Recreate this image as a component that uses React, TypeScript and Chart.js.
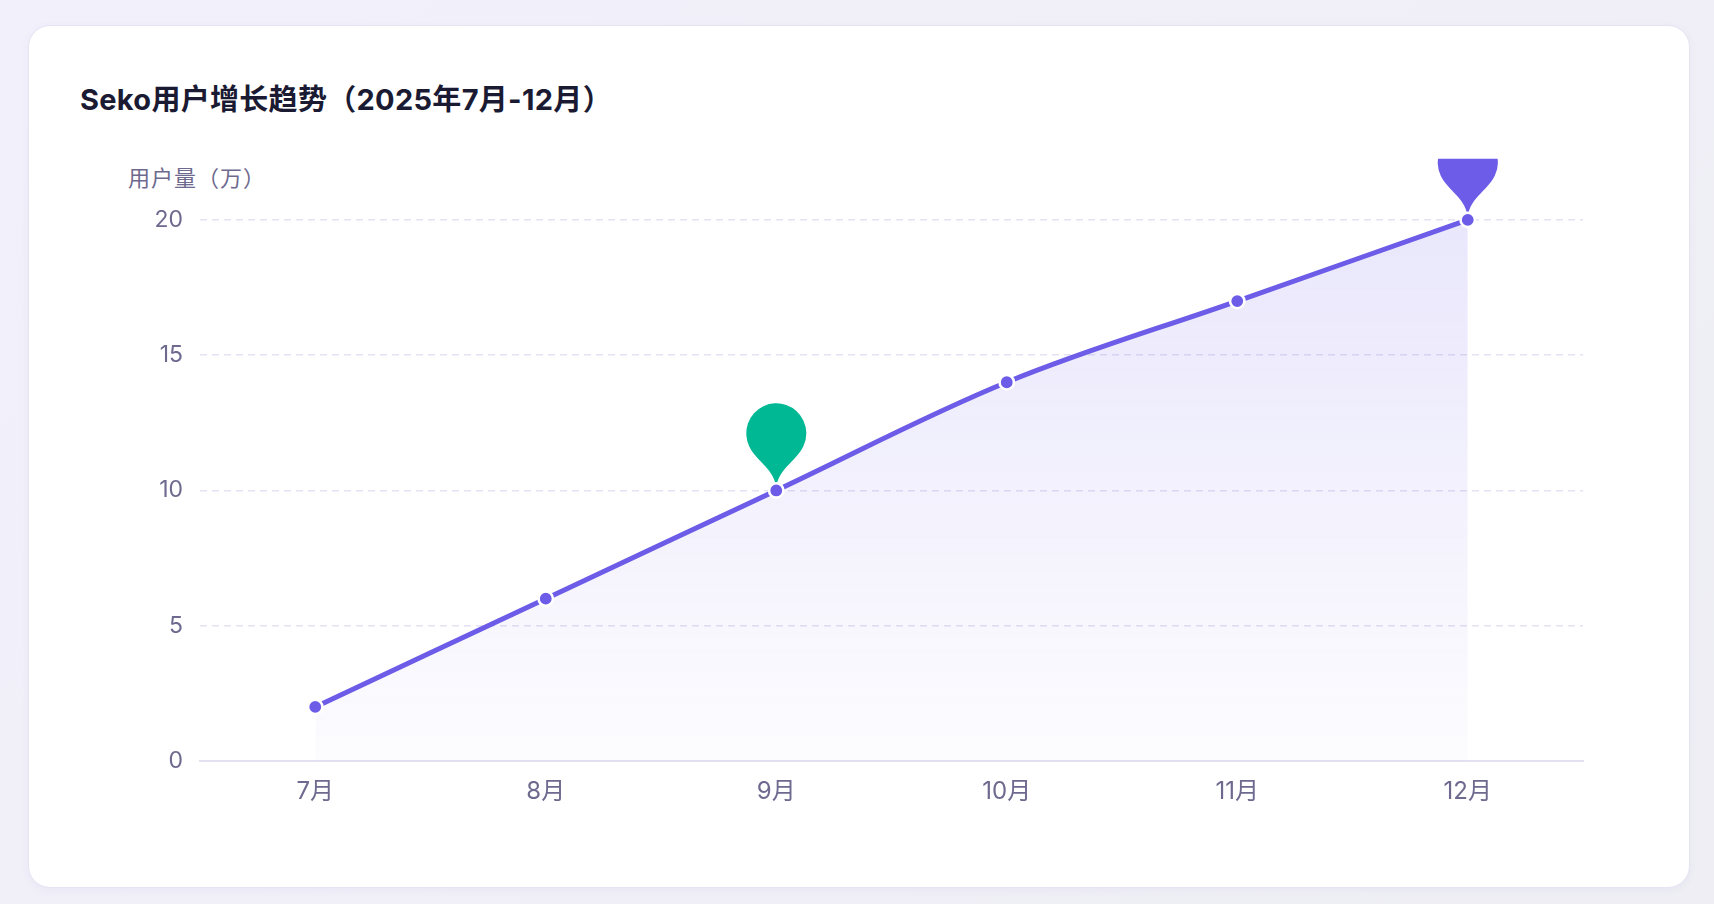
import React, { useEffect, useRef } from 'react';
import { Chart, registerables, ChartOptions, Plugin, ScriptableContext } from 'chart.js';

Chart.register(...registerables);

// Chart data
const months = ['7月', '8月', '9月', '10月', '11月', '12月'];
const users = [2, 6, 10, 14, 17, 20];
const yTicks = [0, 5, 10, 15, 20];
const pinIndexes = [2, 5];
const pinColors = ['#00b894', '#6c5ce7'];

const LINE_COLOR = '#6c5ce7';
const LABEL_COLOR = '#6e6a8f';
const FONT = "Inter, 'Noto Sans CJK SC', sans-serif";

// Pin marker, tip at (x, y)
function drawPin(ctx: CanvasRenderingContext2D, x: number, y: number, size: number, color: string) {
  const w = (size / 5) * 3;
  const h = size;
  const r = w / 2;
  const dy = (r * r) / (h - r);
  const cy = y - h + r + dy;
  const angle = Math.asin(dy / r);
  const dx = Math.cos(angle) * r;
  const tanX = Math.sin(angle);
  const tanY = Math.cos(angle);
  const cp = r * 0.6;
  const cp2 = r * 0.7;
  ctx.beginPath();
  ctx.moveTo(x - dx, cy + dy);
  ctx.arc(x, cy, r, Math.PI - angle, Math.PI * 2 + angle);
  ctx.bezierCurveTo(x + dx - tanX * cp, cy + dy + tanY * cp, x, y - cp2, x, y);
  ctx.bezierCurveTo(x, y - cp2, x - dx + tanX * cp, cy + dy + tanY * cp, x - dx, cy + dy);
  ctx.closePath();
  ctx.fillStyle = color;
  ctx.fill();
}

const pinPlugin: Plugin<'line'> = {
  id: 'pins',
  beforeDatasetsDraw(chart) {
    const { ctx, chartArea } = chart;
    const meta = chart.getDatasetMeta(0);
    const top = chartArea.top - 7;
    ctx.save();
    ctx.beginPath();
    ctx.rect(chartArea.left, top, chartArea.right - chartArea.left, chartArea.bottom - top);
    ctx.clip();
    pinIndexes.forEach((idx, i) => {
      const el = meta.data[idx];
      if (el) drawPin(ctx, el.x, el.y, 100, pinColors[i]);
    });
    ctx.restore();
  }
};

const App: React.FC = () => {
  const chartRef = useRef<HTMLCanvasElement>(null);

  useEffect(() => {
    document.body.style.margin = '0';
    let chart: Chart<'line'> | null = null;

    const options: ChartOptions<'line'> = {
      animation: false,
      responsive: true,
      maintainAspectRatio: false,
      layout: { padding: { top: 18, right: 37, bottom: 19, left: 0 } },
      plugins: {
        legend: { display: false },
        tooltip: { enabled: false }
      },
      scales: {
        x: {
          offset: true,
          grid: { display: false },
          border: { display: true, color: '#e3e1f0', width: 2 },
          ticks: { color: LABEL_COLOR, font: { size: 24, family: FONT }, padding: 8 },
          afterFit: (s) => { s.height = 60; }
        },
        y: {
          min: 0,
          max: 22,
          afterBuildTicks: (s) => { s.ticks = yTicks.map((v) => ({ value: v })); },
          afterFit: (s) => { s.width = 100; },
          ticks: { color: LABEL_COLOR, font: { size: 23, family: FONT }, padding: 17 },
          grid: {
            drawTicks: false,
            lineWidth: 1.5,
            color: (c) => (c.tick && c.tick.value === 0 ? 'rgba(0,0,0,0)' : '#e4e2f3')
          },
          border: { display: false, dash: [7, 5] }
        }
      }
    };

    if (chartRef.current) {
      chart = new Chart(chartRef.current, {
        type: 'line',
        data: {
          labels: months,
          datasets: [
            {
              data: users,
              borderColor: LINE_COLOR,
              borderWidth: 5,
              tension: 0.35,
              fill: 'origin',
              backgroundColor: (c: ScriptableContext<'line'>) => {
                const area = c.chart.chartArea;
                if (!area) return 'rgba(108,92,231,0.1)';
                const g = c.chart.ctx.createLinearGradient(0, area.top, 0, area.bottom);
                g.addColorStop(0, 'rgba(108,92,231,0.16)');
                g.addColorStop(1, 'rgba(108,92,231,0.02)');
                return g;
              },
              pointRadius: 7.2,
              pointBorderWidth: 2.6,
              pointBorderColor: '#ffffff',
              pointBackgroundColor: LINE_COLOR
            }
          ]
        },
        options,
        plugins: [pinPlugin]
      });
    }

    return () => {
      if (chart) chart.destroy();
    };
  }, []);

  // Styles
  const pageStyle: React.CSSProperties = {
    position: 'relative',
    width: '1714px',
    height: '904px',
    overflow: 'hidden',
    background: 'linear-gradient(135deg, #f2f0fb 0%, #f0eff7 60%, #eeeef4 100%)',
    fontFamily: FONT
  };

  const cardStyle: React.CSSProperties = {
    position: 'absolute',
    left: '28px',
    top: '25px',
    width: '1662px',
    height: '863px',
    boxSizing: 'border-box',
    background: '#ffffff',
    border: '1.5px solid #e6e4f3',
    borderRadius: '22px',
    boxShadow: '0 2px 8px rgba(90,80,160,0.05)'
  };

  const titleStyle: React.CSSProperties = {
    position: 'absolute',
    left: '80px',
    top: '85px',
    fontSize: '29px',
    lineHeight: '30px',
    letterSpacing: '0.3px',
    fontWeight: 700,
    color: '#1b1a33',
    whiteSpace: 'nowrap'
  };

  const yNameStyle: React.CSSProperties = {
    position: 'absolute',
    left: '128px',
    top: '165px',
    fontSize: '22px',
    lineHeight: '26px',
    letterSpacing: '1px',
    color: LABEL_COLOR,
    whiteSpace: 'nowrap'
  };

  const chartBoxStyle: React.CSSProperties = {
    position: 'absolute',
    left: '100px',
    top: '135px',
    width: '1520px',
    height: '705px'
  };

  return (
    <div style={pageStyle}>
      <div style={cardStyle}></div>
      <div style={titleStyle}>Seko用户增长趋势（2025年7月-12月）</div>
      <div style={yNameStyle}>用户量（万）</div>
      <div style={chartBoxStyle}>
        <canvas ref={chartRef}></canvas>
      </div>
    </div>
  );
};

export default App;
